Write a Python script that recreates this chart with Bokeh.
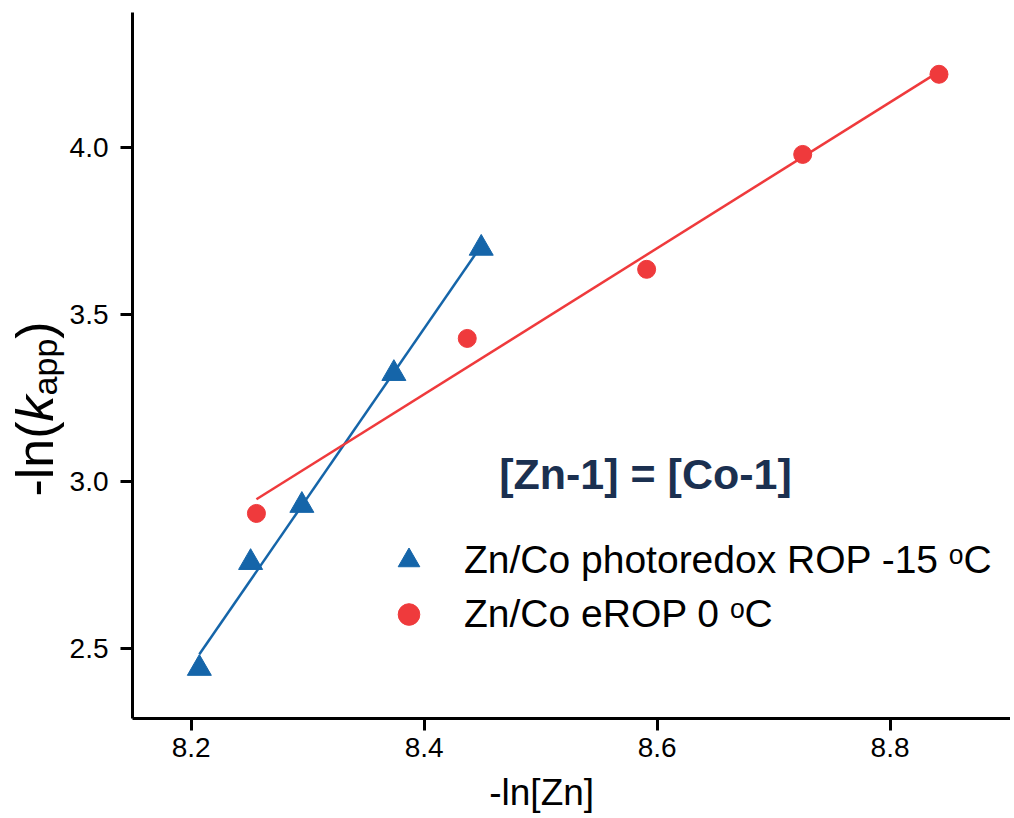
import numpy as np
from bokeh.plotting import figure
from bokeh.layouts import gridplot
from bokeh.models import Range1d, FixedTicker, Label, Legend, LegendItem
from bokeh.embed import file_html
from bokeh.resources import INLINE

# -ln[Zn] against -ln(k_app) for the two Zn/Co systems
photo_x = [8.207, 8.251, 8.295, 8.374, 8.449]
photo_y = [2.440, 2.757, 2.928, 3.323, 3.698]
erop_x = [8.256, 8.437, 8.591, 8.725, 8.842]
erop_y = [2.904, 3.428, 3.635, 3.979, 4.219]

series_names = ["Zn/Co photoredox ROP -15 \u1d52C", "Zn/Co eROP 0 \u1d52C"]

x_ticks = [8.2, 8.4, 8.6, 8.8]
x_tick_labels = ["8.2", "8.4", "8.6", "8.8"]
y_ticks = [2.5, 3.0, 3.5, 4.0]
y_tick_labels = ["2.5", "3.0", "3.5", "4.0"]

BLUE = "#1565a9"
RED = "#ef3a3c"
NAVY = "#1b3050"
FONT = "Liberation Sans"

GAP = 4         # gap the grid leaves between its cells
TITLE_W = 66    # strip on the left carrying the y-axis title
XT_H = 44       # strip below carrying the x-axis title
MAIN_H = 818 - XT_H - GAP
MAIN_W = 1014 - TITLE_W - GAP

p = figure(width=MAIN_W, height=MAIN_H,
           x_range=Range1d(8.1496, 8.9034), y_range=Range1d(2.290, 4.404),
           output_backend="svg", toolbar_location=None,
           min_border_left=132 - TITLE_W - GAP, min_border_right=0,
           min_border_top=12, min_border_bottom=MAIN_H - 718)
p.xgrid.visible = False
p.ygrid.visible = False
p.outline_line_color = None
p.background_fill_color = "white"
p.border_fill_color = "white"

for ax in (p.xaxis[0], p.yaxis[0]):
    ax.axis_line_width = 3
    ax.axis_line_color = "black"
    ax.major_tick_line_width = 3
    ax.major_tick_line_color = "black"
    ax.major_tick_out = 12
    ax.major_tick_in = 0
    ax.minor_tick_out = 0
    ax.minor_tick_in = 0
    ax.major_label_text_color = "black"

p.xaxis.ticker = FixedTicker(ticks=x_ticks)
p.xaxis.major_label_overrides = dict(zip(x_ticks, x_tick_labels))
p.xaxis.major_label_text_font = FONT
p.xaxis.major_label_text_font_size = "28px"
p.xaxis.major_label_standoff = 7

p.yaxis.ticker = FixedTicker(ticks=y_ticks)
p.yaxis.major_label_overrides = dict(zip(y_ticks, y_tick_labels))
p.yaxis.major_label_text_font = FONT
p.yaxis.major_label_text_font_size = "28px"
p.yaxis.major_label_standoff = 12

# least-squares lines through each series, spanning its own x range
def fit_line(xs, ys):
    k, b = np.polyfit(xs, ys, 1)
    fx = np.array([min(xs), max(xs)])
    return fx, k * fx + b

bx, by = fit_line(photo_x, photo_y)
rx, ry = fit_line(erop_x, erop_y)
p.line(bx, by, line_color=BLUE, line_width=2.5)
p.line(rx, ry, line_color=RED, line_width=2.5)

tri = p.scatter(photo_x, photo_y, marker="triangle", size=24,
                fill_color=BLUE, line_color=BLUE)
circ = p.scatter(erop_x, erop_y, marker="circle", size=18,
                 fill_color=RED, line_color=RED)

legend = Legend(items=[LegendItem(label=series_names[0], renderers=[tri]),
                       LegendItem(label=series_names[1], renderers=[circ])],
                location=(249, 77), border_line_color=None,
                background_fill_alpha=0, padding=0, margin=0, spacing=0,
                glyph_width=55, glyph_height=54, label_height=54,
                label_standoff=28, label_text_font=FONT,
                label_text_font_size="39px", label_text_color="black",
                label_text_baseline="middle")
p.add_layout(legend)

p.add_layout(Label(x=513, y=245, x_units="screen", y_units="screen",
                   text="[Zn-1] = [Co-1]", text_font=FONT,
                   text_font_style="bold", text_font_size="43px",
                   text_color=NAVY, text_align="center",
                   text_baseline="middle"))


def strip(width, height, x_range):
    s = figure(width=width, height=height, x_range=x_range,
               y_range=Range1d(0, height), output_backend="svg",
               toolbar_location=None, x_axis_type=None, y_axis_type=None,
               min_border=0, outline_line_color=None)
    s.xgrid.visible = False
    s.ygrid.visible = False
    s.border_fill_color = "white"
    return s


# y-axis title: -ln( k app ) written bottom to top
t = strip(TITLE_W, MAIN_H, Range1d(0, TITLE_W))
F = 52
SUB = 34
ylab_x = 34
y0 = 718 - 496
pieces = [("-ln(", F, "normal", 0, 1.444 * F),
          ("k", F, "italic", 0, 0.5 * F),
          ("app", SUB, "normal", 10, 1.668 * SUB),
          (")", F, "normal", 0, 0.333 * F)]
pos = y0
for txt, size, style, dx, w in pieces:
    t.add_layout(Label(x=ylab_x + dx, y=pos, x_units="screen", y_units="screen",
                       text=txt, text_font=FONT, text_font_style=style,
                       text_font_size=f"{size}px", text_color="black",
                       angle=np.pi / 2, text_align="left",
                       text_baseline="middle"))
    pos += w

# x-axis title strip, sharing the main x range
b = strip(MAIN_W, XT_H, p.x_range)
b.add_layout(Label(x=8.5009, y=XT_H / 2, y_units="screen",
                   text="-ln[Zn]", text_font=FONT, text_font_size="37px",
                   text_color="black", text_align="center",
                   text_baseline="middle"))

grid = gridplot([[t, p], [None, b]], toolbar_location=None)
open("out.html", "w").write(file_html(grid, INLINE))
